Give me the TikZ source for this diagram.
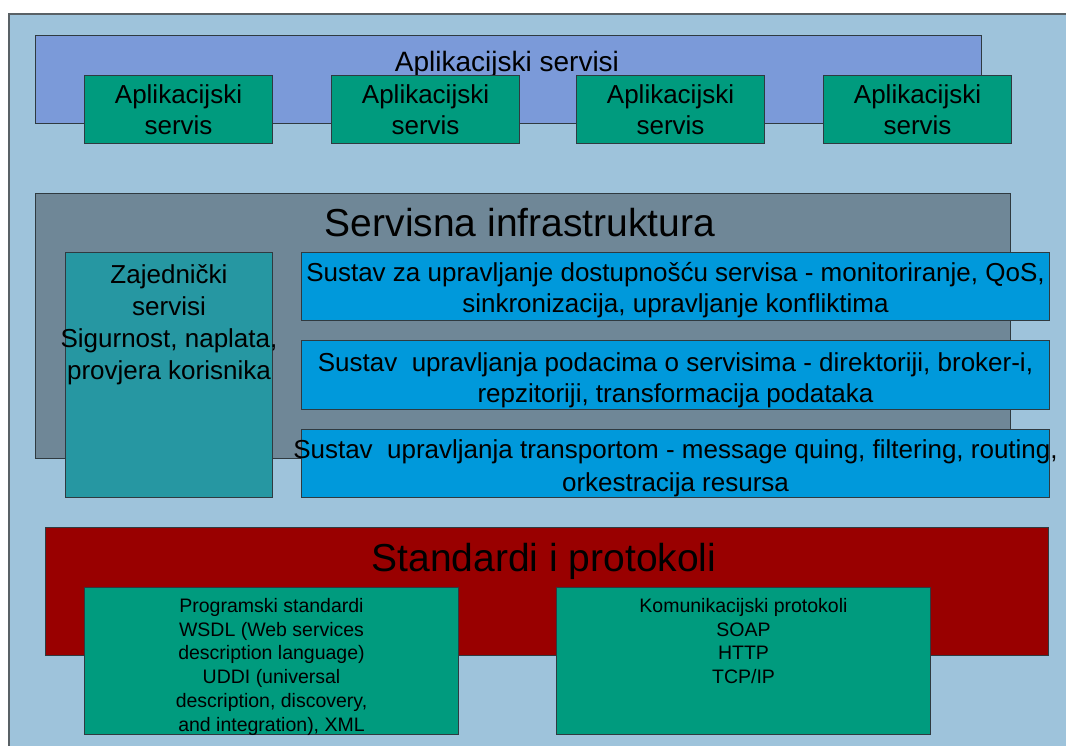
\documentclass[tikz,border=0pt]{standalone}
\usepackage{fontspec}
\setmainfont{Liberation Sans}
\definecolor{bgblue}{HTML}{9EC3DB}
\definecolor{appband}{HTML}{7B9AD9}
\definecolor{greenbox}{HTML}{009B7E}
\definecolor{infragray}{HTML}{6F8797}
\definecolor{tealbox}{HTML}{2697A2}
\definecolor{bluebox}{HTML}{0099DB}
\definecolor{redband}{HTML}{990000}
\definecolor{edge}{HTML}{2F3A40}
\tikzset{
  rbox/.style={draw=edge, line width=1pt, anchor=north west, inner sep=0pt},
  bigtxt/.style={font=\fontsize{26}{31}\selectfont, align=center, inner sep=0pt, text=black},
  titletxt/.style={font=\fontsize{39}{46}\selectfont, inner sep=0pt, text=black},
  smalltxt/.style={font=\fontsize{19.5}{23.8}\selectfont, align=center, inner sep=0pt, text=black}
}
\begin{document}
\begin{tikzpicture}[x=1pt,y=-1pt]
\useasboundingbox (0,0) rectangle (1066,746);
% outer background
\node[rbox, draw=edge!80, line width=2pt, fill=bgblue, minimum width=1080pt, minimum height=750pt] (outer) at (8,13) {};
% application band
\node[rbox, fill=appband, minimum width=946pt, minimum height=88pt] (appband) at (35,35) {};
\node[bigtxt, font=\fontsize{28}{33}\selectfont] (apptitle) at (507,64) {Aplikacijski servisi};
\foreach \x/\n in {84/a1,331/a2,576/a3,823/a4}{
  \node[rbox, fill=greenbox, minimum width=188pt, minimum height=68pt] (\n) at (\x,75) {};
  \node[bigtxt] (\n t) at (\n.center) {Aplikacijski\\servis};
}
% service infrastructure
\node[rbox, fill=infragray, minimum width=975pt, minimum height=265pt] (infra) at (35,193) {};
\node[titletxt] (infratitle) at (520,223) {Servisna infrastruktura};
\node[rbox, fill=tealbox, minimum width=207pt, minimum height=245pt] (zaj) at (65,252) {};
\node[bigtxt, anchor=north, font=\fontsize{26}{32}\selectfont] (zajt) at ([yshift=-12pt]zaj.north) {Zajednički\\servisi\\Sigurnost, naplata,\\provjera korisnika};
\node[rbox, fill=bluebox, minimum width=748pt, minimum height=68pt] (b1) at (301,252) {};
\node[bigtxt] (b1t) at ([yshift=-4pt]b1.center) {Sustav za upravljanje dostupnošću servisa - monitoriranje, QoS,\\sinkronizacija, upravljanje konfliktima};
\node[rbox, fill=bluebox, minimum width=748pt, minimum height=69pt] (b2) at (301,340) {};
\node[bigtxt] (b2t) at ([yshift=-5pt]b2.center) {Sustav~ upravljanja podacima o servisima - direktoriji, broker-i,\\repzitoriji, transformacija podataka};
\node[rbox, fill=bluebox, minimum width=748pt, minimum height=68pt] (b3) at (301,429) {};
\node[bigtxt, font=\fontsize{26}{33}\selectfont] (b3t) at ([yshift=-5pt]b3.center) {Sustav~ upravljanja transportom - message quing, filtering, routing,\\orkestracija resursa};
% standards band
\node[rbox, fill=redband, minimum width=1003pt, minimum height=128pt] (std) at (45,527) {};
\node[titletxt] (stdtitle) at (544,561) {Standardi i protokoli};
\node[rbox, fill=greenbox, minimum width=374pt, minimum height=147pt] (g1) at (84,587) {};
\node[smalltxt, anchor=north] (g1t) at ([yshift=-11pt]g1.north) {Programski standardi\\WSDL (Web services\\description language)\\UDDI (universal\\description, discovery,\\and integration), XML};
\node[rbox, fill=greenbox, minimum width=374pt, minimum height=147pt] (g2) at (556,587) {};
\node[smalltxt, anchor=north] (g2t) at ([yshift=-11pt]g2.north) {Komunikacijski protokoli\\SOAP\\HTTP\\TCP/IP};
\end{tikzpicture}
\end{document}
